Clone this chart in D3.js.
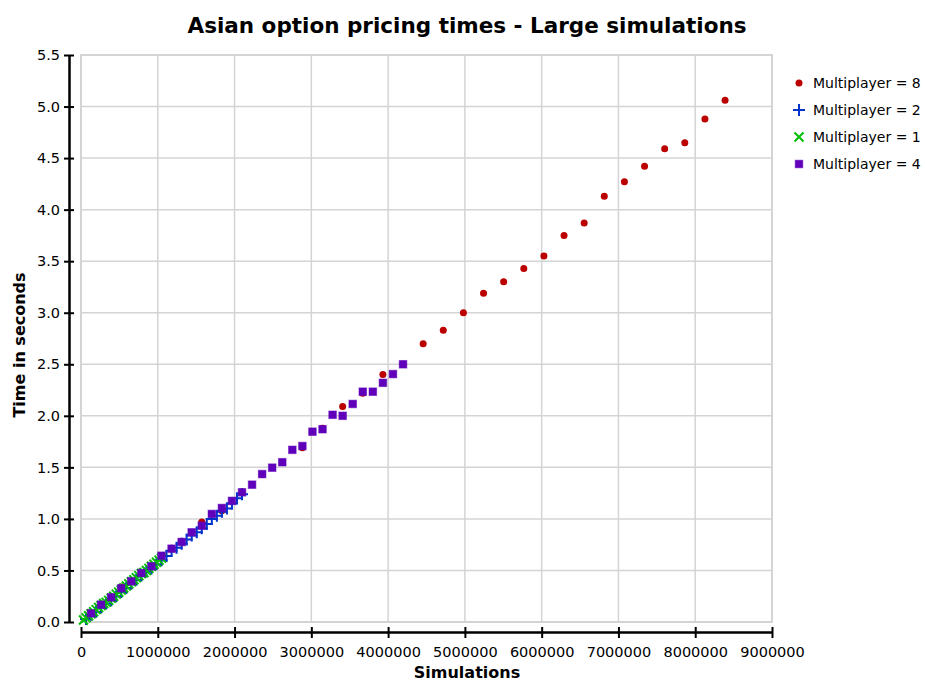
<!DOCTYPE html>
<html>
<head>
<meta charset="utf-8">
<script src="https://cdn.jsdelivr.net/npm/d3@7"></script>
<style>
  body { margin: 0; background: #fff; }
  text { font-family: "DejaVu Sans", sans-serif; }
</style>
</head>
<body>
<script>
// データ：シミュレーション回数の刻み（各シリーズ32点）
var step8 = 262144, step4 = 131072, step2 = 65536, step1 = 32768;

var times8 = [0.17, 0.34, 0.47, 0.64, 0.78, 0.97, 1.08, 1.26, 1.43, 1.55, 1.69, 1.88, 2.09, 2.22, 2.40, 2.50,
              2.70, 2.83, 3.00, 3.19, 3.30, 3.43, 3.55, 3.75, 3.87, 4.13, 4.27, 4.42, 4.59, 4.65, 4.88, 5.06];
var times4 = [0.084, 0.168, 0.24, 0.327, 0.395, 0.475, 0.54, 0.643, 0.711, 0.776, 0.87, 0.934, 1.048, 1.106, 1.175, 1.258,
              1.332, 1.435, 1.497, 1.55, 1.67, 1.707, 1.846, 1.87, 2.01, 2.00, 2.115, 2.234, 2.234, 2.32, 2.405, 2.50];
var times2 = [0.03, 0.07, 0.10, 0.14, 0.18, 0.21, 0.25, 0.29, 0.33, 0.37, 0.41, 0.45, 0.49, 0.52, 0.56, 0.60,
              0.64, 0.69, 0.72, 0.76, 0.80, 0.84, 0.87, 0.91, 0.95, 1.00, 1.03, 1.07, 1.10, 1.15, 1.20, 1.24];
var times1 = [0.02, 0.04, 0.06, 0.08, 0.10, 0.12, 0.14, 0.16, 0.18, 0.19, 0.21, 0.23, 0.25, 0.27, 0.29, 0.31,
              0.33, 0.35, 0.37, 0.39, 0.41, 0.43, 0.45, 0.47, 0.48, 0.50, 0.52, 0.54, 0.56, 0.58, 0.60, 0.62];

var xTicks = [0, 1000000, 2000000, 3000000, 4000000, 5000000, 6000000, 7000000, 8000000, 9000000];
var yTicks = [0.0, 0.5, 1.0, 1.5, 2.0, 2.5, 3.0, 3.5, 4.0, 4.5, 5.0, 5.5];

var series = [
    { label: "Multiplayer = 8", step: step8, times: times8, shape: "circle", color: "#bb0000" },
    { label: "Multiplayer = 2", step: step2, times: times2, shape: "plus",   color: "#0033cc" },
    { label: "Multiplayer = 1", step: step1, times: times1, shape: "cross",  color: "#00c000" },
    { label: "Multiplayer = 4", step: step4, times: times4, shape: "square", color: "#6000bb" }
];

// =======================================================
// SVG とスケール
// =======================================================
var width = 925, height = 682;
var plotLeft = 81, plotRight = 772, plotTop = 55, plotBottom = 622;

var svg = d3.select("body").append("svg")
    .attr("width", width)
    .attr("height", height);

var x = d3.scaleLinear().domain([0, 9000000]).range([plotLeft, plotRight]);
var y = d3.scaleLinear().domain([0, 5.5]).range([plotBottom, plotTop]);

// グリッド線
svg.append("g").selectAll("line")
    .data(xTicks).enter().append("line")
    .attr("x1", d => x(d)).attr("x2", d => x(d))
    .attr("y1", plotTop).attr("y2", plotBottom)
    .attr("stroke", "#d4d4d4").attr("stroke-width", 1.5);
svg.append("g").selectAll("line")
    .data(yTicks).enter().append("line")
    .attr("x1", plotLeft).attr("x2", plotRight)
    .attr("y1", d => y(d)).attr("y2", d => y(d))
    .attr("stroke", "#d4d4d4").attr("stroke-width", 1.5);
svg.append("rect")
    .attr("x", plotLeft).attr("y", plotTop)
    .attr("width", plotRight - plotLeft).attr("height", plotBottom - plotTop)
    .attr("fill", "none").attr("stroke", "#d4d4d4").attr("stroke-width", 2);

// 軸（プロット領域から離して描く）
var xAxis = svg.append("g")
    .attr("transform", "translate(0," + 632 + ")")
    .call(d3.axisBottom(x).tickValues(xTicks).tickFormat(d3.format("d")).tickSize(6).tickSizeOuter(0).tickPadding(9));
xAxis.selectAll(".tick line").attr("y1", -5).attr("stroke-width", 2);
xAxis.select(".domain").attr("stroke-width", 2.5);
xAxis.selectAll("text").attr("font-size", 14.5).attr("font-family", "DejaVu Sans").attr("fill", "#000");

var yAxis = svg.append("g")
    .attr("transform", "translate(" + 69 + ",0)")
    .call(d3.axisLeft(y).tickValues(yTicks).tickFormat(d3.format(".1f")).tickSize(5).tickSizeOuter(0).tickPadding(4));
yAxis.selectAll(".tick line").attr("x1", 5).attr("stroke-width", 2);
yAxis.select(".domain").attr("stroke-width", 2.5);
yAxis.selectAll("text").attr("font-size", 14.5).attr("font-family", "DejaVu Sans").attr("fill", "#000");

// マーカー描画
function drawMarker(g, shape, color) {
    if (shape === "circle") {
        g.append("circle").attr("r", 3.5).attr("fill", color);
    } else if (shape === "square") {
        g.append("rect").attr("x", -3.8).attr("y", -3.8).attr("width", 7.6).attr("height", 7.6)
            .attr("fill", color).attr("stroke", color).attr("stroke-opacity", 0.5).attr("stroke-width", 1);
    } else if (shape === "plus") {
        g.append("path").attr("d", "M-6,0H6M0,-6V6").attr("stroke", color).attr("stroke-width", 2);
    } else {
        g.append("path").attr("d", "M-4.5,-4.5L4.5,4.5M-4.5,4.5L4.5,-4.5").attr("stroke", color).attr("stroke-width", 2);
    }
}

series.forEach(function (s) {
    svg.append("g").selectAll("g")
        .data(s.times).enter().append("g")
        .attr("transform", (d, i) => "translate(" + x(s.step * (i + 1)) + "," + y(d) + ")")
        .each(function () { drawMarker(d3.select(this), s.shape, s.color); });
});

// タイトル・軸ラベル
svg.append("text")
    .attr("x", 467).attr("y", 33)
    .attr("text-anchor", "middle")
    .attr("font-size", 21.5).attr("font-weight", "bold")
    .text("Asian option pricing times - Large simulations");

svg.append("text")
    .attr("x", 467).attr("y", 678)
    .attr("text-anchor", "middle")
    .attr("font-size", 16).attr("font-weight", "bold")
    .text("Simulations");

svg.append("text")
    .attr("transform", "translate(25,345) rotate(-90)")
    .attr("text-anchor", "middle")
    .attr("font-size", 16).attr("font-weight", "bold")
    .text("Time in seconds");

// 凡例
var legend = svg.append("g").selectAll("g")
    .data(series).enter().append("g")
    .attr("transform", (d, i) => "translate(799," + (83 + i * 27) + ")");
legend.each(function (s) { drawMarker(d3.select(this), s.shape, s.color); });
legend.append("text")
    .attr("x", 14).attr("y", 5)
    .attr("font-size", 14)
    .text(d => d.label);
</script>
</body>
</html>
